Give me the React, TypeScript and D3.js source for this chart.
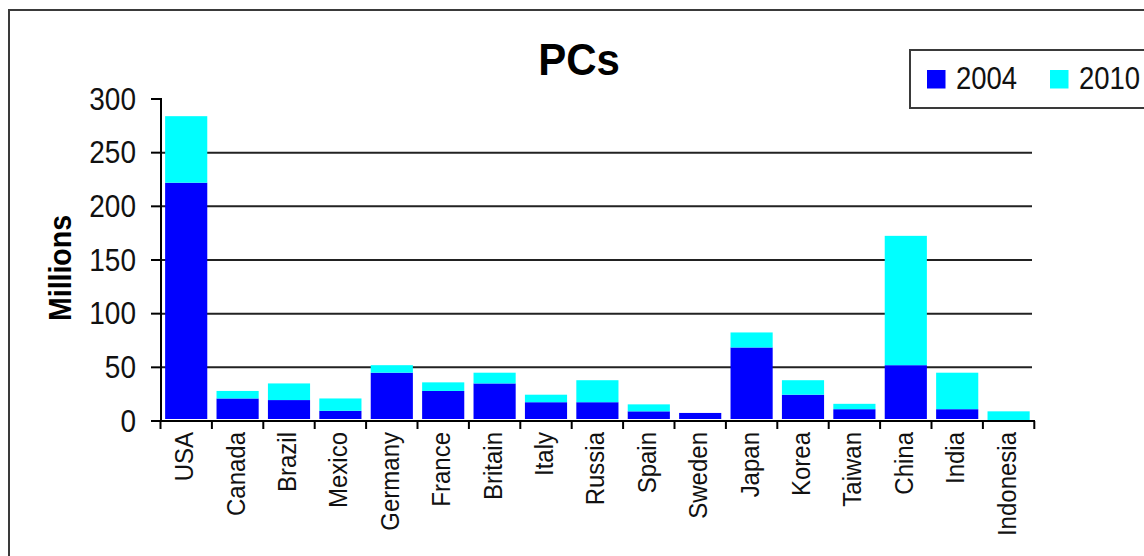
import React from "react";
import * as d3 from "d3";

const countries = ["USA","Canada","Brazil","Mexico","Germany","France","Britain","Italy","Russia","Spain","Sweden","Japan","Korea","Taiwan","China","India","Indonesia"];
const pcs2004 = [222,21,19.5,9.5,45,28,35,17.5,17.5,9,7.5,68.5,24.5,11,52,11,0];
const pcs2010 = [62,7,15.5,11.5,7,8,10,7,20.5,6.5,0,14,13.5,5,120.5,34,9];
const yTicks = [0,50,100,150,200,250,300];
const seriesNames = ["2004","2010"];
const colors = ["#0000FF","#00FFFF"];

const FONT = "'Liberation Sans', Arial, sans-serif";

export default function App() {
  const W = 1144, H = 556;
  const x = d3.scaleBand<string>().domain(countries).range([160.5, 1034.3]).paddingInner(0.18).paddingOuter(0.09);
  const y = d3.scaleLinear().domain([0, 300]).range([421, 99]);
  const step = x.step();
  const x0 = 160.5;

  const rows = countries.map((c, i) => ({ c, a: pcs2004[i], b: pcs2010[i] }));
  const stack = d3.stack<any>().keys(["a", "b"])(rows);

  return (
    <svg width={W} height={H} style={{ position: "absolute", left: 0, top: 0, background: "#fff" }} fontFamily={FONT}>
      <rect x={0} y={0} width={W} height={H} fill="#fff" />
      {/* outer frame */}
      <rect x={9} y={10} width={1300} height={700} fill="none" stroke="#3a3a3a" strokeWidth={2} />
      {/* gridlines */}
      {yTicks.filter(t => t > 0 && t < 300).map(t => (
        <line key={"g"+t} x1={161} x2={1032} y1={y(t)} y2={y(t)} stroke="#222" strokeWidth={2} />
      ))}
      {/* bars */}
      {stack.map((s, si) => (
        <g key={si}>
          {s.map((d, i) => {
            const top = y(d[1]);
            const bot = y(d[0]) - (si === 0 ? 2 : 0);
            if (d[1] - d[0] <= 0) return null;
            return <rect key={i} x={x(countries[i])} y={top} width={x.bandwidth()} height={Math.max(0, bot - top)} fill={colors[si]} />;
          })}
        </g>
      ))}
      {/* y axis */}
      <line x1={161} x2={161} y1={y(300) - 1} y2={y(0) + 1} stroke="#000" strokeWidth={2} />
      {yTicks.map(t => (
        <g key={"yt"+t}>
          <line x1={151} x2={161} y1={y(t)} y2={y(t)} stroke="#000" strokeWidth={2} />
          <text transform={`translate(136,${y(t) + 10.5}) scale(1,1.12)`} textAnchor="end" fontSize={28} fill="#111">{t}</text>
        </g>
      ))}
      {/* x axis */}
      <line x1={160} x2={1035} y1={y(0)} y2={y(0)} stroke="#000" strokeWidth={2} />
      {d3.range(countries.length + 1).map(i => (
        <line key={"xt"+i} x1={x0 + i * step} x2={x0 + i * step} y1={y(0)} y2={y(0) + 8} stroke="#000" strokeWidth={2} />
      ))}
      {countries.map(c => (
        <text key={"xl"+c} transform={`translate(${(x(c) as number) + x.bandwidth() / 2 + 7},432) rotate(-90) scale(1,1.1)`} textAnchor="end" fontSize={24} fill="#111">{c}</text>
      ))}
      {/* y title */}
      <text transform={`translate(70.5,268) rotate(-90) scale(1,1.1)`} textAnchor="middle" fontSize={28.5} fontWeight="bold" fill="#000">Millions</text>
      {/* title */}
      <text transform={`translate(579,75) scale(1,1.05)`} textAnchor="middle" fontSize={42} fontWeight="bold" fill="#000">PCs</text>
      {/* legend */}
      <rect x={910} y={50} width={300} height={58} fill="#fff" stroke="#3a3a3a" strokeWidth={2} />
      {seriesNames.map((n, i) => {
        const lx = i === 0 ? 927 : 1050;
        return (
          <g key={"lg"+n}>
            <rect x={lx} y={70} width={18.5} height={18.5} fill={colors[i]} />
            <text transform={`translate(${lx + 29},89) scale(1,1.15)`} fontSize={27.5} fill="#111">{n}</text>
          </g>
        );
      })}
    </svg>
  );
}
